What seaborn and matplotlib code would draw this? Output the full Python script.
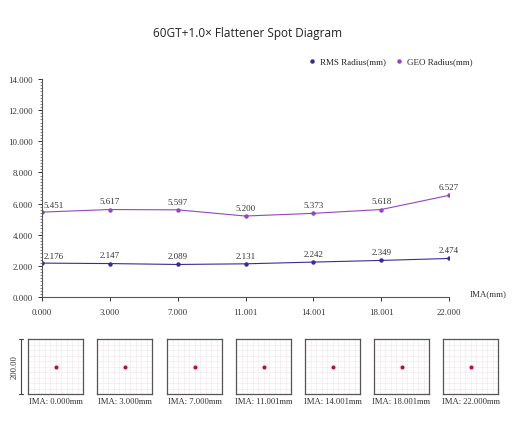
import numpy as np
import pandas as pd
import matplotlib
matplotlib.use('Agg')
import matplotlib.pyplot as plt
from matplotlib.ticker import MultipleLocator
import seaborn as sns

# data
ima_labels = ['0.000', '3.000', '7.000', '11.001', '14.001', '18.001', '22.000']
rms_radius = [2.176, 2.147, 2.089, 2.131, 2.242, 2.349, 2.474]
geo_radius = [5.451, 5.617, 5.597, 5.200, 5.373, 5.618, 6.527]
spot_titles = ['IMA: 0.000mm', 'IMA: 3.000mm', 'IMA: 7.000mm', 'IMA: 11.001mm',
               'IMA: 14.001mm', 'IMA: 18.001mm', 'IMA: 22.000mm']
spot_x = [0.0, 0.0, 0.0, 0.0, 0.0, 0.0, 0.0]
spot_y = [0.0, 0.0, 0.0, 0.0, 0.0, 0.0, 0.0]
scale_label = '200.00'

sns.set_style('ticks')
plt.rcParams['font.family'] = ['Liberation Serif', 'DejaVu Serif']

rms_col = '#3b2c94'
geo_col = '#9446c0'
txt_col = '#333333'

df = pd.DataFrame({
    'pos': list(range(len(ima_labels))) * 2,
    'val': rms_radius + geo_radius,
    'series': ['RMS Radius(mm)'] * len(rms_radius) + ['GEO Radius(mm)'] * len(geo_radius),
})

fig = plt.figure(figsize=(5.12, 4.27), dpi=100)
W, H = 512, 427

ax = fig.add_axes([42 / W, 1 - 298 / H, (449 - 42) / W, (298 - 80) / H])
sns.lineplot(data=df, x='pos', y='val', hue='series',
             palette={'RMS Radius(mm)': rms_col, 'GEO Radius(mm)': geo_col},
             marker='o', markersize=3.2, markeredgewidth=0, linewidth=0.8,
             ax=ax, legend=False)
ax.set_xlim(0, len(ima_labels) - 1)
ax.set_ylim(0, 14)
ax.set_xticks(range(len(ima_labels)))
ax.set_xticklabels(ima_labels)
ax.yaxis.set_major_locator(MultipleLocator(2))
ax.yaxis.set_major_formatter(matplotlib.ticker.FormatStrFormatter('%.3f'))
ax.yaxis.set_minor_locator(MultipleLocator(0.2))
ax.tick_params(axis='both', labelsize=6.3, colors=txt_col, length=3, width=0.7)
ax.tick_params(axis='x', pad=5)
ax.tick_params(axis='y', which='minor', length=1.8, width=0.5, color='#555555')
ax.set_xlabel('')
ax.set_ylabel('')
sns.despine(ax=ax)
for s in ['left', 'bottom']:
    ax.spines[s].set_color('#555555')
    ax.spines[s].set_linewidth(0.8)
ax.set_facecolor('none')

for vals in (rms_radius, geo_radius):
    for i, v in enumerate(vals):
        if i == 0:
            ax.annotate(f'{v:.3f}', (i, v), xytext=(1, 2), textcoords='offset points',
                        ha='left', va='bottom', fontsize=6.5, color=txt_col)
        else:
            ax.annotate(f'{v:.3f}', (i, v), xytext=(0, 3), textcoords='offset points',
                        ha='center', va='bottom', fontsize=6.5, color=txt_col)

fig.text(470 / W, 1 - 298 / H, 'IMA(mm)', fontsize=6.5, color=txt_col,
         ha='left', va='bottom')

# title and legend
fig.text(248 / W, 1 - 33 / H, '60GT+1.0× Flattener Spot Diagram', fontsize=8.5,
         family=['Open Sans', 'DejaVu Sans'], color='#222222', ha='center', va='center')
ax.scatter([], [], color=rms_col, s=5, label='RMS Radius(mm)')
ax.scatter([], [], color=geo_col, s=5, label='GEO Radius(mm)')
fig.legend(*ax.get_legend_handles_labels(), loc='center', ncol=2,
           bbox_to_anchor=(391 / W, 1 - 62 / H), frameon=False, fontsize=6.5,
           handlelength=0.6, handletextpad=0.6, columnspacing=1.2, markerscale=1)

# spot diagrams
box_left = [28, 97, 167, 236, 305, 374, 443]
for i, title in enumerate(spot_titles):
    sax = fig.add_axes([box_left[i] / W, 1 - 395 / H, 55 / W, 55 / H])
    sax.set_xlim(-100, 100)
    sax.set_ylim(-100, 100)
    for g in np.linspace(-100, 100, 11)[1:-1]:
        sax.axvline(g, color='#f3eaee', lw=0.5, zorder=0)
        sax.axhline(g, color='#f3eaee', lw=0.5, zorder=0)
    sax.scatter([spot_x[i]], [spot_y[i]], s=24, color='#fde8f0', lw=0, zorder=1)
    sns.scatterplot(x=[spot_x[i]], y=[spot_y[i]], s=8, color='#9c1740',
                    linewidth=0, ax=sax, zorder=2)
    sax.set_xticks([])
    sax.set_yticks([])
    for s in sax.spines.values():
        s.set_color('#555555')
        s.set_linewidth(0.9)
    fig.text((box_left[i] + 27.5) / W, 1 - 402 / H, title, fontsize=6.2,
             color=txt_col, ha='center', va='center')

# scale bar
bar = fig.add_axes([0, 0, 1, 1], facecolor='none')
bar.set_xlim(0, W)
bar.set_ylim(H, 0)
bar.axis('off')
bar.plot([21, 21], [340, 395], color='#444444', lw=0.8)
bar.plot([19, 23], [340, 340], color='#444444', lw=0.8)
bar.plot([19, 23], [395, 395], color='#444444', lw=0.8)
bar.text(15, 367.5, scale_label, rotation=90, fontsize=6.2, color=txt_col,
         ha='center', va='center')

fig.savefig('out.png', dpi=100)
